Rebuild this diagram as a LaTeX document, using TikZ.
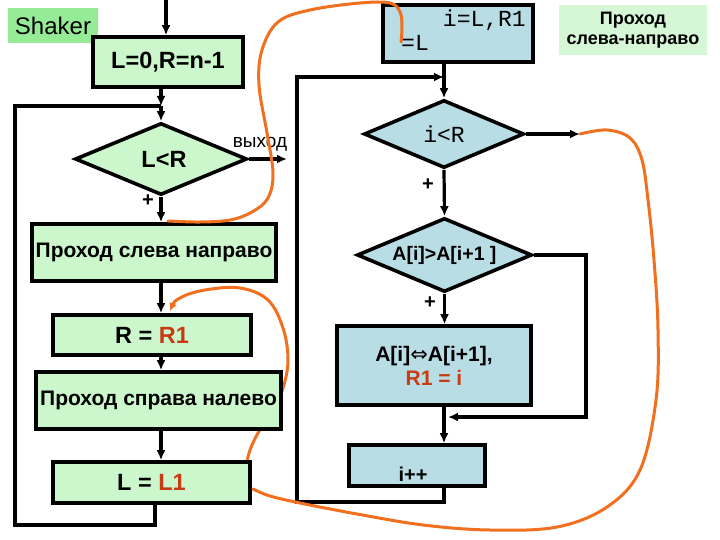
\documentclass[tikz,border=0pt]{standalone}
\usepackage{fontspec}
\setmainfont{Liberation Sans}
\newfontfamily\monof{Liberation Mono}
\newfontfamily\djv{DejaVu Sans}
\usetikzlibrary{shapes.geometric,arrows.meta}
\definecolor{gfill}{RGB}{204,247,204}
\definecolor{bfill}{RGB}{185,221,228}
\definecolor{lblg}{RGB}{150,235,150}
\definecolor{ttlg}{RGB}{214,247,214}
\definecolor{rtxt}{RGB}{200,60,20}
\definecolor{orng}{RGB}{240,112,32}
\begin{document}
\begin{tikzpicture}[x=1pt,y=-1pt,
  box/.style={draw=black,line width=3.6pt,fill=gfill,inner sep=0pt,align=center,font=\bfseries\fontsize{20}{23}\selectfont},
  bbox/.style={box,fill=bfill},
  dia/.style={box,diamond,aspect=2},
  bdia/.style={dia,fill=bfill},
  conn/.style={line width=3.2pt},
  arr/.style={conn,-{Latex[length=10pt,width=9pt]}},
  ocurve/.style={draw=orng,line width=3pt,line cap=round},
  plus/.style={font=\bfseries\fontsize{20}{22}\selectfont,inner sep=0pt}]
\useasboundingbox (0,0) rectangle (720,540);

% orange curve behind the left boxes
\draw[ocurve,{Latex[length=8pt,width=8pt]}-] plot[smooth,tension=0.6] coordinates {(170,311) (180,298) (205,290) (240,288) (268,300) (283,328) (288,360) (283,388) (272,412) (258,433) (250,450) (247,462)};

% left column
\node[fill=lblg,minimum width=90pt,minimum height=35pt,inner sep=0pt,font=\fontsize{24}{26}\selectfont] (shaker) at (53,25.5) {Shaker};
\node[box,minimum width=150pt,minimum height=50pt,font=\bfseries\fontsize{23.5}{26}\selectfont] (init) at (168,62) {L=0,R=n-1};
\node[dia,minimum width=172pt,minimum height=72pt,font=\bfseries\fontsize{23.5}{26}\selectfont] (d1) at (161,159) {\hspace*{6pt}L<R};
\node[box,minimum width=244pt,minimum height=57pt,font=\bfseries\fontsize{21}{23}\selectfont] (p1) at (154,252.5) {Проход слева направо};
\node[box,minimum width=198pt,minimum height=40pt,font=\bfseries\fontsize{23.5}{26}\selectfont] (r1) at (152,335) {R = \textcolor{rtxt}{R1}};
\node[box,minimum width=245pt,minimum height=57pt,font=\bfseries\fontsize{21}{23}\selectfont] (p2) at (158.5,400.5) {Проход справа налево};
\node[box,minimum width=197pt,minimum height=41pt,font=\bfseries\fontsize{23.5}{26}\selectfont] (l1) at (151.5,482.5) {L = \textcolor{rtxt}{L1}};

\node[font=\fontsize{19}{20}\selectfont,inner sep=0pt] (exitlbl) at (260,144) {выход};
\node[plus] (plus1) at (148,201) {+};

% right column
\node[bbox,minimum width=150pt,minimum height=57pt] (ib) at (458,33.5) {};
\node[anchor=north east,inner sep=0pt,font=\monof\fontsize{23}{24}\selectfont] (ibt1) at (526,10) {i=L,R1};
\node[anchor=north west,inner sep=0pt,font=\monof\fontsize{23}{24}\selectfont] (ibt2) at (401,35) {=L};
\node[bdia,minimum width=160pt,minimum height=68pt,font=\monof\fontsize{23}{24}\selectfont] (d2) at (444,134) {i<R};
\node[bdia,minimum width=175pt,minimum height=74pt,font=\bfseries\fontsize{19.5}{22}\selectfont] (d3) at (444.5,255) {A[i]>A[i+1 ]};
\node[bbox,minimum width=194pt,minimum height=79pt,font=\bfseries\fontsize{21}{24}\selectfont] (sw) at (434,365.5) {A[i]{\djv\mdseries ⇔}A[i+1],\\\textcolor{rtxt}{R1 = i}};
\node[bbox,minimum width=136pt,minimum height=41pt] (inc) at (417,465.5) {};
\node[inner sep=0pt,font=\bfseries\fontsize{20}{22}\selectfont] (inct) at (413,474) {i++};
\node[plus] (plus2) at (428,185) {+};
\node[plus] (plus3) at (430,303) {+};

\node[fill=ttlg,minimum width=148pt,minimum height=50pt,inner sep=0pt,align=center,font=\bfseries\fontsize{18}{20}\selectfont] (title) at (633,30) {Проход\\слева-направо};

% coordinates
\coordinate (top) at (166,0);
\coordinate (cx) at (161,0);
\coordinate (j1) at (161,106);
\coordinate (lft) at (15,106);
\coordinate (lb) at (155,525);
\coordinate (ex) at (287,0);
\coordinate (cr) at (444,0);
\coordinate (j2) at (444,77);
\coordinate (rl) at (297,77);
\coordinate (rb) at (297,502);
\coordinate (o2) at (580,0);
\coordinate (rr) at (586,417);
\coordinate (jr) at (448,417);

% left connectors
\draw[arr] (top) -- (top |- init.north);
\draw[arr] (init.south -| j1) -- (j1);
\draw[arr] (j1) -- (d1.north);
\draw[conn] (l1.south -| lb) -- (lb) -- (lb -| lft) -- (lft) -- (j1);
\draw[arr] (d1.east) -- (d1.east -| ex);
\draw[arr] (d1.south) -- (d1.south |- p1.north);
\draw[arr] (p1.south -| cx) -- (r1.north -| cx);
\draw[arr] (r1.south -| cx) -- (p2.north -| cx);
\draw[arr] (p2.south -| cx) -- (l1.north -| cx);

% right connectors
\draw[arr] (ib.south -| cr) -- (d2.north);
\draw[arr] (inc.south -| cr) -- (cr |- rb) -- (rb) -- (rl) -- (j2);
\draw[arr] (d2.east) -- (d2.east -| o2);
\draw[arr] (d2.south) -- (d3.north);
\draw[arr] (d3.south) -- (d3.south |- sw.north);
\draw[arr] (d3.east) -- (d3.east -| rr) -- (rr) -- (jr);
\draw[arr] (sw.south -| cr) -- (inc.north -| cr);

% orange curves on top
\draw[ocurve] plot[smooth,tension=0.6] coordinates {(168,221) (200,222) (230,220) (252,212) (268,198) (273,173) (267,133) (259,85) (262,50) (278,22) (310,10) (360,3) (390,3) (400,12) (402,27) (401,42)};
\draw[ocurve] plot[smooth,tension=0.6] coordinates {(580,134) (607,130) (630,138) (642,160) (648,200) (654,260) (658,330) (656,400) (640,470) (607,507) (557,527) (490,530) (423,525) (357,514) (300,503) (270,496) (253,489)};
\end{tikzpicture}
\end{document}
